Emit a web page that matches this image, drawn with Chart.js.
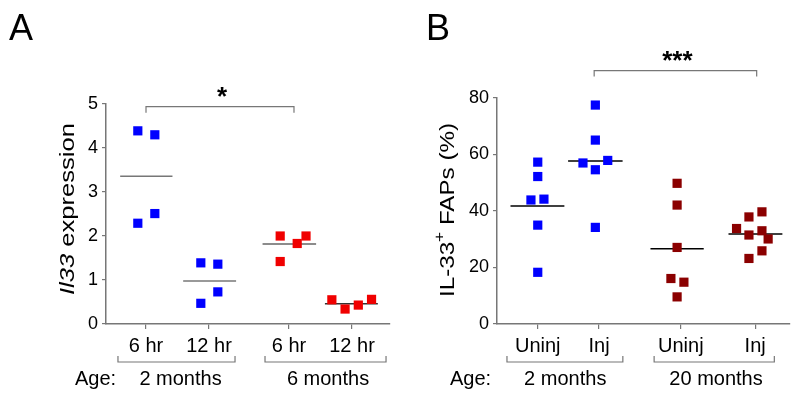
<!DOCTYPE html>
<html>
<head>
<meta charset="utf-8">
<script src="https://cdn.jsdelivr.net/npm/chart.js@4.4.0/dist/chart.umd.min.js"></script>
<style>
  html, body { margin: 0; padding: 0; background: #fff; }
  #wrap { position: relative; width: 800px; height: 400px; }
  .panel { position: absolute; top: 0; width: 400px; height: 400px; }
</style>
</head>
<body>
<div id="wrap">
  <div class="panel" style="left:0"><canvas id="chartA" width="400" height="400"></canvas></div>
  <div class="panel" style="left:400px"><canvas id="chartB" width="400" height="400"></canvas></div>
</div>
<script>
// ---- Panel A: Il33 expression ----
const labelsA = ['6 hr', '12 hr', '6 hr', '12 hr'];
const posA = [1, 2, 3.27, 4.27];
const valuesA = [
  [4.39, 4.30, 2.29, 2.51],
  [1.39, 1.36, 0.73, 0.47],
  [2.00, 1.83, 2.00, 1.42],
  [0.55, 0.34, 0.43, 0.56]
];
const jitterA = [
  [-0.13, 0.14, -0.13, 0.14],
  [-0.13, 0.14, 0.14, -0.13],
  [-0.14, 0.13, 0.27, -0.14],
  [-0.32, -0.11, 0.10, 0.31]
];
const meansA = [3.36, 0.98, 1.82, 0.46];
const agesA = ['2 months', '6 months'];

// ---- Panel B: IL-33+ FAPs (%) ----
const labelsB = ['Uninj', 'Inj', 'Uninj', 'Inj'];
const posB = [1, 1.99, 3.31, 4.51];
const valuesB = [
  [57.3, 52.2, 43.9, 44.2, 35.0, 18.3],
  [77.5, 65.1, 57.0, 57.9, 54.6, 34.2],
  [49.8, 42.1, 27.1, 16.1, 14.8, 9.6],
  [33.8, 37.9, 39.7, 31.5, 33.0, 30.1, 25.9, 23.2]
];
const jitterB = [
  [0, 0, -0.11, 0.10, 0, 0],
  [-0.06, -0.06, -0.26, 0.14, -0.06, -0.06],
  [-0.06, -0.06, -0.06, -0.16, 0.05, -0.06],
  [-0.30, -0.10, 0.11, -0.10, 0.11, 0.21, 0.11, -0.10]
];
const meansB = [41.8, 57.7, 26.6, 31.9];
const agesB = ['2 months', '20 months'];

const BLUE = '#0000ff';
const RED = '#f00000';
const DARKRED = '#8b0000';
const AXIS = '#777';
const FONT = 'Arial, "Liberation Sans", sans-serif';

function buildDatasets(pos, values, jitter, means, colors, meanColors, half) {
  const sets = [];
  values.forEach((vals, g) => {
    sets.push({
      type: 'scatter',
      data: vals.map((v, i) => ({ x: pos[g] + jitter[g][i], y: v })),
      pointStyle: 'rect',
      pointRadius: 6.5,
      pointHoverRadius: 6.5,
      backgroundColor: colors[g],
      borderWidth: 0
    });
    sets.push({
      type: 'line',
      data: [{ x: pos[g] + half[g][0], y: means[g] }, { x: pos[g] + half[g][1], y: means[g] }],
      borderColor: meanColors[g],
      borderWidth: 1.5,
      pointRadius: 0,
      fill: false
    });
  });
  return sets;
}

// draws titles, brackets and group labels around the plot
const decor = {
  id: 'decor',
  afterDraw(chart, args, o) {
    const ctx = chart.ctx;
    const xs = chart.scales.x, ys = chart.scales.y;
    ctx.save();
    ctx.fillStyle = '#000';
    // panel letter
    ctx.font = '36px ' + FONT;
    ctx.textAlign = 'left';
    ctx.textBaseline = 'alphabetic';
    ctx.fillText(o.letter, o.letterX, 40);

    // y title (rotated, stretched to the reference length)
    ctx.save();
    ctx.translate(o.titleX, o.titleY);
    ctx.rotate(-Math.PI / 2);
    let w = 0;
    o.title.forEach(p => { ctx.font = p.font; w += ctx.measureText(p.text).width; });
    ctx.scale(o.titleLen / w, 1);
    let x = -w / 2;
    ctx.textBaseline = 'middle';
    o.title.forEach(p => {
      ctx.font = p.font;
      ctx.fillText(p.text, x, p.dy || 0);
      x += ctx.measureText(p.text).width;
    });
    ctx.restore();

    // group brackets under the x labels
    ctx.strokeStyle = AXIS;
    ctx.lineWidth = 1.2;
    o.groups.forEach(gr => {
      const x1 = xs.getPixelForValue(gr[0]), x2 = xs.getPixelForValue(gr[1]);
      ctx.beginPath();
      ctx.moveTo(x1, 356); ctx.lineTo(x1, 362); ctx.lineTo(x2, 362); ctx.lineTo(x2, 356);
      ctx.stroke();
    });
    ctx.font = '20px ' + FONT;
    ctx.textBaseline = 'middle';
    ctx.textAlign = 'left';
    ctx.fillText('Age:', o.ageX, 379);
    ctx.textAlign = 'center';
    o.ages.forEach((t, i) => ctx.fillText(t, xs.getPixelForValue(o.ageAt[i]), 379));

    // significance bracket
    const s = o.sig;
    const sx1 = xs.getPixelForValue(s.from), sx2 = xs.getPixelForValue(s.to);
    const sy = ys.getPixelForValue(s.y);
    ctx.beginPath();
    ctx.moveTo(sx1, sy + 6); ctx.lineTo(sx1, sy); ctx.lineTo(sx2, sy); ctx.lineTo(sx2, sy + 6);
    ctx.stroke();
    ctx.font = 'bold 26px ' + FONT;
    ctx.textBaseline = 'alphabetic';
    ctx.fillText(s.text, (sx1 + sx2) / 2 + 2, sy - 2);
    ctx.restore();
  }
};

function makeChart(id, cfg) {
  return new Chart(document.getElementById(id), {
    data: { datasets: cfg.datasets },
    options: {
      responsive: false,
      animation: false,
      events: [],
      layout: { padding: { top: cfg.top, right: 10, left: 0, bottom: 0 } },
      plugins: { legend: { display: false }, tooltip: { enabled: false }, decor: cfg.decor },
      scales: {
        x: {
          type: 'linear',
          min: cfg.xmin, max: cfg.xmax,
          afterBuildTicks: s => { s.ticks = cfg.pos.map(v => ({ value: v })); },
          afterFit: s => { s.height = 76; },
          ticks: {
            callback: (v, i) => cfg.labels[i],
            color: '#000',
            font: { size: 20, family: FONT },
            padding: 5,
            maxRotation: 0
          },
          grid: { drawOnChartArea: false, tickLength: 5, color: AXIS, lineWidth: 1.2 },
          border: { color: AXIS, width: 1.5 }
        },
        y: {
          min: 0, max: cfg.ymax,
          afterFit: s => { s.width = cfg.yWidth; },
          ticks: {
            stepSize: cfg.step,
            color: '#000',
            font: { size: 18, family: FONT },
            padding: 4
          },
          grid: { drawOnChartArea: false, tickLength: 4, color: AXIS, lineWidth: 1.2 },
          border: { color: AXIS, width: 1.5 }
        }
      }
    },
    plugins: [decor]
  });
}

makeChart('chartA', {
  datasets: buildDatasets(posA, valuesA, jitterA, meansA,
    [BLUE, BLUE, RED, RED], ['#777', '#777', '#666', '#333'],
    [[-0.41, 0.42], [-0.41, 0.43], [-0.42, 0.43], [-0.43, 0.41]]),
  pos: posA, labels: labelsA,
  xmin: 0.365, xmax: 4.873, ymax: 5, step: 1, top: 104, yWidth: 106,
  decor: {
    letter: 'A', letterX: 9,
    title: [
      { text: 'Il33', font: 'italic 21px ' + FONT },
      { text: ' expression', font: '21px ' + FONT }
    ],
    titleX: 68, titleY: 209, titleLen: 172,
    groups: [[0.555, 2.413], [2.889, 4.81]],
    ages: agesA, ageAt: [1.548, 3.889], ageX: 75,
    sig: { from: 1, to: 3.349, y: 4.94, text: '*' }
  }
});

makeChart('chartB', {
  datasets: buildDatasets(posB, valuesB, jitterB, meansB,
    [BLUE, BLUE, DARKRED, DARKRED], ['#000', '#000', '#000', '#000'],
    [[-0.44, 0.43], [-0.5, 0.38], [-0.49, 0.37], [-0.43, 0.44]]),
  pos: posB, labels: labelsB,
  xmin: 0.342, xmax: 5.073, ymax: 80, step: 20, top: 98, yWidth: 97,
  decor: {
    letter: 'B', letterX: 26,
    title: [
      { text: 'IL-33', font: '21px ' + FONT },
      { text: '+', font: '15px ' + FONT, dy: -8 },
      { text: ' FAPs (%)', font: '21px ' + FONT }
    ],
    titleX: 48, titleY: 210, titleLen: 174,
    groups: [[0.503, 2.374], [2.879, 4.82]],
    ages: agesB, ageAt: [1.444, 3.879], ageX: 50,
    sig: { from: 1.911, to: 4.535, y: 89.7, text: '***' }
  }
});
</script>
</body>
</html>
